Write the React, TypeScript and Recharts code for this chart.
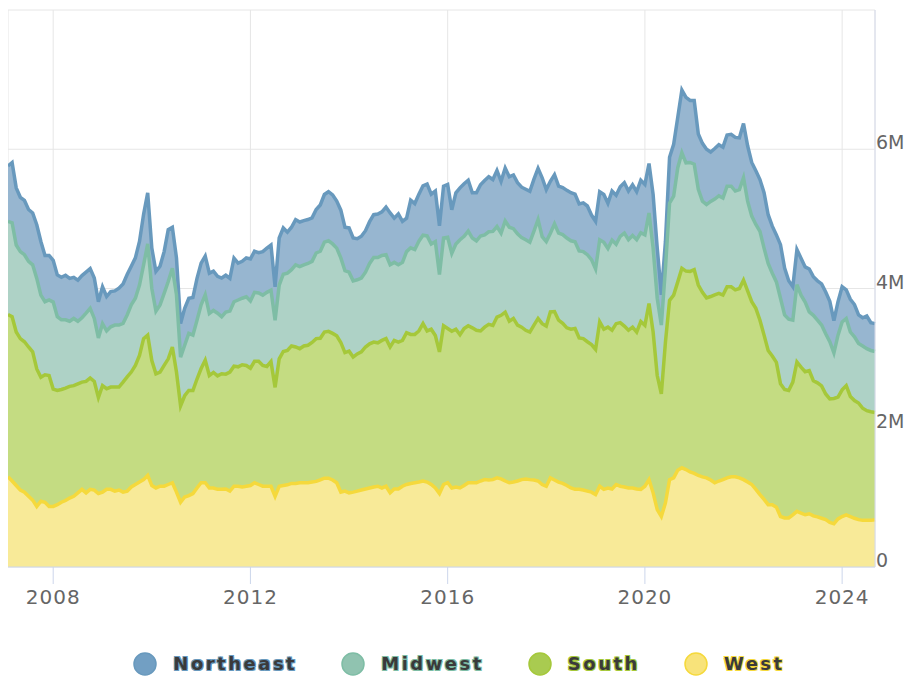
import React from 'react';
import { AreaChart, Area, XAxis, YAxis, CartesianGrid } from 'recharts';

// monthly, Feb 2007 .. Sep 2024 (values in thousands)
const west = [
  1295, 1235, 1170, 1105, 1075, 1015, 960, 870, 945, 930,
  870, 870, 895, 930, 955, 990, 1015, 1065, 1115, 1065,
  1115, 1105, 1055, 1075, 1115, 1115, 1090, 1105, 1075, 1090,
  1150, 1185, 1220, 1255, 1315, 1170, 1135, 1160, 1160, 1185,
  1210, 1075, 930, 1005, 1025, 1055, 1135, 1210, 1210, 1135,
  1135, 1115, 1115, 1120, 1090, 1160, 1160, 1150, 1160, 1170,
  1210, 1185, 1160, 1160, 1160, 1015, 1160, 1170, 1180, 1200,
  1200, 1210, 1210, 1210, 1220, 1230, 1250, 1275, 1275, 1250,
  1210, 1075, 1090, 1065, 1075, 1090, 1105, 1120, 1135, 1150,
  1160, 1135, 1160, 1065, 1120, 1120, 1160, 1185, 1200, 1210,
  1220, 1235, 1220, 1185, 1135, 1055, 1185, 1210, 1135, 1150,
  1135, 1170, 1210, 1210, 1210, 1235, 1255, 1250, 1255, 1280,
  1265, 1235, 1210, 1220, 1235, 1255, 1265, 1255, 1250, 1235,
  1185, 1160, 1280, 1250, 1220, 1200, 1170, 1135, 1115, 1115,
  1105, 1090, 1075, 1040, 1160, 1115, 1135, 1120, 1185, 1160,
  1150, 1135, 1135, 1120, 1115, 1160, 1255, 1065, 825, 725,
  920, 1255, 1280, 1390, 1425, 1400, 1365, 1345, 1315, 1295,
  1280, 1250, 1210, 1235, 1255, 1280, 1295, 1295, 1280, 1255,
  1220, 1185, 1115, 1040, 970, 895, 895, 860, 725, 705,
  705, 750, 800, 775, 750, 765, 735, 720, 700, 680,
  640, 620, 690, 725, 750, 725, 700, 680, 670, 670,
  670, 680,
];

const south = [
  2330, 2360, 2205, 2175, 2160, 2145, 2130, 1975, 1780, 1830,
  1880, 1685, 1640, 1620, 1615, 1605, 1590, 1565, 1540, 1600,
  1600, 1560, 1380, 1530, 1445, 1470, 1495, 1480, 1580, 1640,
  1650, 1710, 1820, 2025, 2015, 1795, 1640, 1640, 1735, 1805,
  1950, 1725, 1385, 1455, 1510, 1480, 1565, 1640, 1760, 1615,
  1660, 1630, 1660, 1650, 1710, 1725, 1715, 1755, 1735, 1685,
  1745, 1770, 1735, 1720, 1790, 1565, 1830, 1925, 1930, 1975,
  1960, 1925, 1965, 1975, 2005, 2050, 2035, 2100, 2110, 2105,
  2110, 2150, 1990, 2035, 1940, 1970, 1985, 2040, 2070, 2080,
  2060, 2120, 2120, 2095, 2135, 2110, 2095, 2180, 2140, 2130,
  2170, 2260, 2170, 2230, 2190, 2035, 2280, 2215, 2250, 2265,
  2200, 2255, 2255, 2225, 2190, 2155, 2190, 2235, 2215, 2310,
  2350, 2425, 2320, 2350, 2240, 2190, 2135, 2120, 2225, 2335,
  2310, 2300, 2385, 2420, 2325, 2300, 2265, 2280, 2310, 2175,
  2175, 2145, 2120, 2085, 2360, 2300, 2310, 2280, 2310, 2350,
  2310, 2265, 2310, 2255, 2410, 2310, 2530, 2310, 1925, 1760,
  2310, 2575, 2625, 2705, 2865, 2850, 2880, 2925, 2735, 2650,
  2585, 2635, 2700, 2695, 2650, 2745, 2730, 2685, 2720, 2865,
  2745, 2625, 2600, 2505, 2360, 2215, 2135, 2080, 1905, 1845,
  1830, 1905, 2145, 2095, 2055, 2055, 1940, 1925, 1900, 1805,
  1775, 1800, 1750, 1820, 1855, 1725, 1690, 1675, 1610, 1575,
  1560, 1540,
];

const midwest = [
  1340, 1350, 1250, 1250, 1250, 1230, 1250, 1300, 1180, 1050,
  1085, 1250, 1060, 1000, 980, 935, 965, 900, 925, 980,
  1000, 905, 855, 890, 830, 865, 890, 890, 845, 890,
  965, 965, 1010, 1060, 1310, 1035, 900, 965, 1035, 1110,
  1130, 1110, 700, 725, 820, 795, 845, 915, 940, 890,
  890, 900, 820, 890, 875, 925, 960, 955, 985, 965,
  990, 980, 1010, 1065, 1025, 965, 1060, 1110, 1110, 1095,
  1180, 1180, 1165, 1175, 1165, 1230, 1250, 1290, 1300, 1285,
  1260, 1215, 1175, 1135, 1095, 1065, 1060, 1075, 1155, 1215,
  1225, 1220, 1205, 1180, 1120, 1110, 1120, 1165, 1245, 1220,
  1290, 1270, 1365, 1225, 1350, 1110, 1260, 1310, 1120, 1225,
  1365, 1325, 1360, 1290, 1285, 1365, 1325, 1330, 1350, 1300,
  1180, 1310, 1350, 1290, 1310, 1285, 1300, 1290, 1350, 1420,
  1250, 1215, 1130, 1260, 1250, 1275, 1290, 1270, 1245, 1250,
  1250, 1250, 1220, 1155, 1180, 1250, 1130, 1295, 1140, 1240,
  1335, 1300, 1315, 1325, 1275, 1300, 1300, 1205, 1110, 990,
  1060, 1395, 1420, 1640, 1660, 1555, 1565, 1515, 1375, 1310,
  1340, 1365, 1375, 1400, 1395, 1445, 1445, 1420, 1420, 1470,
  1290, 1230, 1205, 1275, 1250, 1250, 1190, 1155, 1230, 1070,
  1025, 890, 1110, 1035, 1000, 845, 940, 900, 875, 865,
  820, 655, 890, 975, 965, 925, 915, 855, 895, 890,
  880, 875,
];

const northeast = [
  795, 865, 820, 780, 780, 745, 745, 770, 770, 665,
  640, 600, 600, 610, 640, 615, 590, 590, 605, 590,
  570, 580, 520, 530, 495, 505, 490, 530, 565, 580,
  555, 580, 625, 725, 735, 580, 570, 555, 600, 745,
  590, 530, 480, 530, 505, 540, 600, 600, 555, 580,
  565, 530, 555, 530, 470, 625, 530, 530, 560, 605,
  590, 580, 625, 635, 650, 480, 675, 665, 590, 610,
  650, 640, 635, 630, 625, 625, 665, 685, 705, 705,
  675, 685, 625, 635, 615, 590, 600, 595, 600, 615,
  625, 625, 685, 745, 635, 730, 590, 480, 685, 660,
  675, 710, 745, 715, 725, 700, 745, 760, 625, 735,
  745, 755, 730, 650, 690, 735, 780, 790, 745, 805,
  745, 760, 725, 770, 735, 725, 725, 730, 745, 735,
  845, 745, 745, 705, 675, 675, 685, 690, 685, 675,
  700, 700, 640, 685, 690, 685, 650, 705, 705, 710,
  725, 700, 730, 690, 755, 725, 710, 770, 725, 435,
  385, 660, 745, 725, 900, 940, 890, 915, 795, 830,
  795, 710, 725, 735, 730, 735, 745, 770, 745, 780,
  795, 770, 770, 745, 795, 700, 675, 675, 770, 675,
  550, 480, 505, 530, 505, 615, 555, 565, 590, 600,
  580, 465, 480, 505, 410, 470, 465, 410, 405, 470,
  400, 400,
];

const yearTicks = [2008, 2012, 2016, 2020, 2024];
const valueTicks = [0, 2000, 4000, 6000, 8000];

// month positions as fractional years, starting Feb 2007
const months = west.map((_, i) => 2007 + (i + 1) / 12);

const data = months.map((t, i) => ({
  t,
  Northeast: northeast[i],
  Midwest: midwest[i],
  South: south[i],
  West: west[i],
}));

const series = [
  { key: 'Northeast', line: '#6899bd', fill: '#97b6d0', dot: '#729fc3' },
  { key: 'Midwest', line: '#7ebda5', fill: '#aed2c6', dot: '#90c3b0' },
  { key: 'South', line: '#a5c83a', fill: '#c4dc82', dot: '#a9cb50' },
  { key: 'West', line: '#f5d93c', fill: '#f8ea98', dot: '#f8e37a' },
];

const font = '"DejaVu Sans", sans-serif';

const XTick = (props: any) => {
  const { x, y, payload } = props;
  return (
    <text x={x} y={y + 18} textAnchor="middle" fill="#666" fontSize={20} fontFamily={font} letterSpacing={1}>
      {payload.value}
    </text>
  );
};

const YTick = (props: any) => {
  const { x, y, payload } = props;
  if (payload.value === 8000) return null;
  const label = payload.value === 0 ? '0' : `${payload.value / 1000}M`;
  return (
    <text x={x - 1} y={y} textAnchor="start" fill="#666" fontSize={19} fontFamily={font}>
      {label}
    </text>
  );
};

export default function App() {
  return (
    <div style={{ position: 'relative', width: 904, height: 677, overflow: 'hidden' }}>
      <style>{'body { margin: 0; overflow: hidden; }'}</style>
      <div style={{ position: 'absolute', left: 8, top: 8 }}>
        <AreaChart
          width={896}
          height={610}
          data={data}
          reverseStackOrder
          margin={{ top: 2, right: 0, left: 0, bottom: 0 }}
        >
          <CartesianGrid stroke="#e6e6e6" />
          <XAxis
            dataKey="t"
            type="number"
            domain={[months[0], months[months.length - 1]]}
            ticks={yearTicks}
            height={51}
            stroke="#ccd6eb"
            tickSize={17}
            tick={<XTick />}
          />
          <YAxis
            orientation="right"
            width={29}
            domain={[0, 8000]}
            ticks={valueTicks}
            stroke="#d6dbeb"
            tickLine={false}
            tickSize={0}
            tickMargin={2}
            tick={<YTick />}
          />
          {series.map((s) => (
            <Area
              key={s.key}
              type="linear"
              dataKey={s.key}
              stackId="1"
              stroke={s.line}
              strokeWidth={3.5}
              fill={s.fill}
              fillOpacity={1}
              dot={false}
              activeDot={false}
              isAnimationActive={false}
            />
          ))}
        </AreaChart>
      </div>
      <div
        style={{
          position: 'absolute',
          top: 652,
          left: 11,
          width: 896,
          height: 24,
          display: 'flex',
          justifyContent: 'center',
          alignItems: 'center',
          gap: 44,
        }}
      >
        {series.map((s) => (
          <div key={s.key} style={{ display: 'flex', alignItems: 'center' }}>
            <svg width={24} height={24}>
              <circle cx={12} cy={12} r={11} fill={s.dot} stroke={s.line} strokeWidth={1.5} />
            </svg>
            <span
              style={{
                marginLeft: 16,
                fontFamily: font,
                fontWeight: 'bold',
                fontSize: 18,
                letterSpacing: 2.5,
                color: '#3a3a3a',
                lineHeight: '24px',
                textShadow: `1px 1px 0 ${s.line}, -1px -1px 0 ${s.line}, 1px -1px 0 ${s.line}, -1px 1px 0 ${s.line}`,
              }}
            >
              {s.key}
            </span>
          </div>
        ))}
      </div>
    </div>
  );
}
